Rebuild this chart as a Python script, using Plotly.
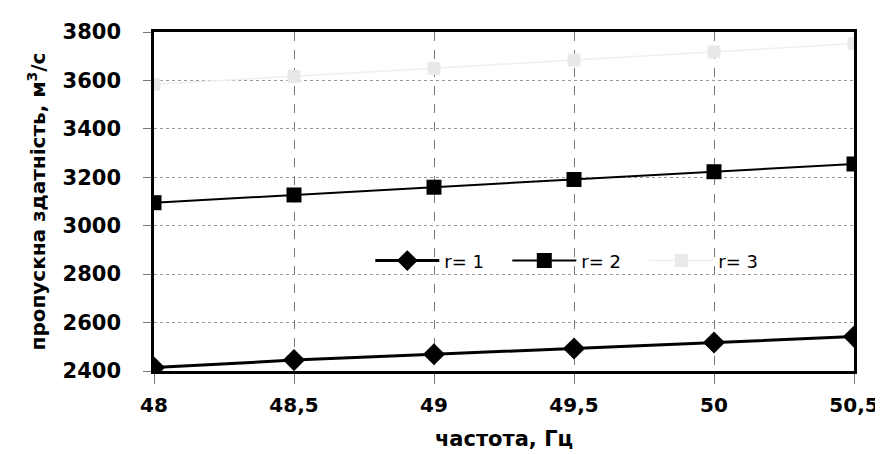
import plotly.graph_objects as go

freq = [48, 48.5, 49, 49.5, 50, 50.5]
freq_labels = ["48", "48,5", "49", "49,5", "50", "50,5"]
r1 = [2414, 2445, 2469, 2493, 2518, 2542]
r2 = [3095, 3127, 3159, 3191, 3223, 3255]
r3 = [3584, 3616, 3650, 3684, 3718, 3752]
y_ticks = [2400, 2600, 2800, 3000, 3200, 3400, 3600, 3800]

FONT = "DejaVu Sans, sans-serif"

fig = go.Figure()
fig.add_trace(go.Scatter(x=freq, y=r1, mode="lines+markers", name="r= 1",
                         line=dict(color="black", width=3),
                         marker=dict(symbol="diamond", size=17, color="black")))
fig.add_trace(go.Scatter(x=freq, y=r2, mode="lines+markers", name="r= 2",
                         line=dict(color="black", width=2),
                         marker=dict(symbol="square", size=15, color="black")))
fig.add_trace(go.Scatter(x=freq, y=r3, mode="lines+markers", name="r= 3",
                         line=dict(color="#efefef", width=1.5),
                         marker=dict(symbol="square", size=13, color="#e9e9e9")))

fig.update_layout(
    width=883, height=454,
    margin=dict(l=146, r=28, t=21, b=91),
    paper_bgcolor="white", plot_bgcolor="white",
    font=dict(family=FONT, color="black", size=20),
    showlegend=True,
    legend=dict(orientation="h", x=0.309, y=0.325, xanchor="left", yanchor="middle",
                bgcolor="rgba(0,0,0,0)", font=dict(size=18, family=FONT),
                entrywidth=58, entrywidthmode="pixels", itemwidth=64),
    xaxis=dict(range=[48, 50.5], tickvals=freq, ticktext=freq_labels,
               showgrid=True, gridcolor="#777", griddash="dash", gridwidth=1,
               showline=True, linecolor="black", linewidth=2.5, mirror=True,
               ticks="outside", ticklen=10, tickcolor="#777",
               ticklabelstandoff=4,
               tickfont=dict(size=20, family=FONT, weight="bold"),
               title=dict(text="частота, Гц", standoff=16,
                          font=dict(size=21, family=FONT, weight="bold")),
               zeroline=False),
    yaxis=dict(range=[2400, 3800], tickvals=y_ticks,
               showgrid=True, gridcolor="#999", griddash="dot", gridwidth=1,
               showline=True, linecolor="black", linewidth=2.5, mirror=True,
               ticks="outside", ticklen=8, tickcolor="#777",
               ticklabelstandoff=18,
               tickfont=dict(size=21, family=FONT, weight="bold"),
               title=dict(text="пропускна здатність, м<sup>3</sup>/с", standoff=12,
                          font=dict(size=20, family=FONT, weight="bold")),
               zeroline=False),
)

fig.write_html("out.html")
